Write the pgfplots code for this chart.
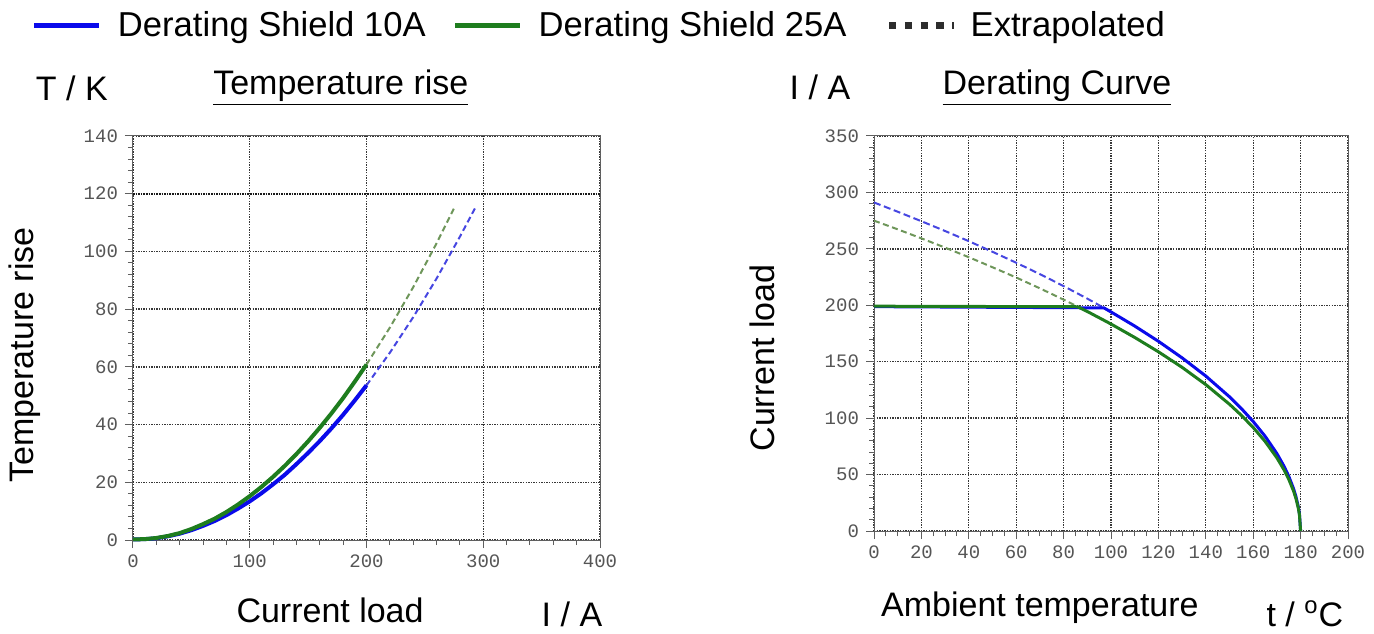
\documentclass[border=0pt]{standalone}
\usepackage{fontspec}
\setmainfont{Liberation Sans}
\setmonofont{Liberation Mono}
\usepackage{pgfplots}
\pgfplotsset{compat=1.18}
\definecolor{cblue}{RGB}{10,10,235}
\definecolor{cgreen}{RGB}{30,125,30}
\definecolor{cbluedash}{RGB}{70,70,225}
\definecolor{cgreendash}{RGB}{110,150,90}
\definecolor{gridc}{RGB}{95,95,95}
\definecolor{gridd}{RGB}{55,55,55}
\definecolor{tickc}{RGB}{85,85,85}
\definecolor{legdot}{RGB}{45,45,45}
\tikzset{lbl/.style={font=\fontsize{17}{20}\selectfont, inner sep=0pt}}
\pgfplotsset{
  myaxis/.style={
    scale only axis, anchor=south west, clip=false,
    axis line style={gridc, line width=0.5pt},
    grid=major, grid style={draw=gridd, line width=0.65pt, dash pattern=on 0.7pt off 0.6pt},
    tick style={gridc, line width=0.5pt},
    major tick length=4pt, minor tick length=2.5pt,
    tick align=outside, tick pos=left,
    /pgf/number format/assume math mode=true,
    /pgf/number format/1000 sep={},
    ticklabel style={font=\ttfamily\fontsize{9.5}{10}\selectfont, text=tickc},
  },
}
\begin{document}
\begin{tikzpicture}
\path[use as bounding box] (0,0) rectangle (687pt,316.5pt);
% ---------------- left: temperature rise
\begin{axis}[myaxis, at={(66.5pt,46.5pt)}, width=233.5pt, height=202pt,
  xmin=0, xmax=400, ymin=0, ymax=140,
  xtick={0,100,200,300,400}, ytick={0,20,40,60,80,100,120,140},
  minor x tick num=4, minor y tick num=4,
  extra y ticks={120}, extra y tick labels={},
  extra y tick style={grid style={draw=black!90, line width=1pt, dash pattern=on 0.8pt off 0.5pt}},
  legend columns=3,
  legend style={at={(-0.230,1.273)}, anchor=west, draw=none, fill=none,
    font=\fontsize{17.3}{20}\selectfont,
    /tikz/column 1/.style={column sep=6pt},
    /tikz/column 2/.style={column sep=11.5pt},
    /tikz/column 3/.style={column sep=6pt},
    /tikz/column 4/.style={column sep=17.5pt},
    /tikz/column 5/.style={column sep=4.5pt}},
  legend image code/.code={\draw[#1] (0pt,0pt) -- (32.5pt,0pt);},
]
\addlegendimage{cblue, line width=2.5pt}
\addlegendimage{cgreen, line width=2.5pt}
\addlegendimage{legdot, line width=3.6pt, dash pattern=on 3.7pt off 4.2pt}
\legend{Derating Shield 10A, Derating Shield 25A, Extrapolated}
% extrapolated
\addplot[cbluedash, line width=1pt, dash pattern=on 3pt off 1.8pt, forget plot] coordinates {
(200,53.6)(220,64.9)(240,77.2)(260,90.6)(280,105.1)(293,115)};
\addplot[cgreendash, line width=1pt, dash pattern=on 3pt off 1.8pt, forget plot] coordinates {
(200,60.8)(220,73.6)(240,87.6)(260,102.8)(276,115.8)};
% measured
\addplot[cblue, line width=2pt, forget plot] coordinates {
(0,0.2)(10,0.3)(20,0.6)(30,1.3)(40,2.2)(50,3.4)(60,4.9)(70,6.6)(80,8.6)(90,10.9)(100,13.4)
(110,16.2)(120,19.3)(130,22.6)(140,26.3)(150,30.2)(160,34.3)(170,38.7)(180,43.4)(190,48.4)(200,53.6)};
\addplot[cgreen, line width=2pt, forget plot] coordinates {
(0,0.2)(10,0.3)(20,0.7)(30,1.4)(40,2.4)(50,3.8)(60,5.5)(70,7.4)(80,9.7)(90,12.3)(100,15.2)
(110,18.4)(120,21.9)(130,25.7)(140,29.8)(150,34.2)(160,38.9)(170,43.9)(180,49.2)(190,54.9)(200,60.8)};
\node[lbl] at (rel axis cs:-0.131,1.119) {T / K};
\node[lbl] at (rel axis cs:0.445,1.119) {\underline{Temperature rise}};
\node[lbl, rotate=90] at (rel axis cs:-0.231,0.458) {Temperature rise};
\node[lbl] at (rel axis cs:0.422,-0.173) {Current load};
\node[lbl] at (rel axis cs:0.94,-0.183) {I / A};
\end{axis}
% ---------------- right: derating curve
\begin{axis}[myaxis, at={(437pt,51pt)}, width=237pt, height=197.5pt,
  xmin=0, xmax=200, ymin=0, ymax=350,
  xtick={0,20,...,200}, ytick={0,50,...,350},
  minor x tick num=3, minor y tick num=4,
]
\addplot[cbluedash, line width=1pt, dash pattern=on 3.5pt off 1.8pt] coordinates {
(0,291.1)(10,282.9)(20,274.5)(30,265.8)(40,256.8)(50,247.4)(60,237.7)(70,227.6)(80,217.0)(90,205.9)(97,197.7)};
\addplot[cgreendash, line width=1pt, dash pattern=on 3pt off 1.8pt] coordinates {
(0,275.0)(10,267.3)(20,259.3)(30,251.1)(40,242.6)(50,233.7)(60,224.6)(70,215.0)(80,205.0)(86,198.7)};
\addplot[cblue, line width=1.5pt] coordinates {
(0,198.8)(97,197.7)(100,194.1)(110,181.6)(120,168.1)(130,153.4)(140,137.3)(150,118.9)(155,108.5)
(160,97.0)(165,84.0)(170,68.6)(173,57.4)(175,48.5)(177,37.6)(178,30.7)(179,21.7)(179.5,15.3)(180,0)};
\addplot[cgreen, line width=1.5pt] coordinates {
(0,199.2)(86,198.7)(90,194.5)(100,183.4)(110,171.5)(120,158.8)(130,145.0)(140,129.7)(150,112.3)(155,102.5)
(160,91.7)(165,79.4)(170,64.8)(173,54.2)(175,45.8)(177,35.5)(178,29.0)(179,20.5)(179.5,14.5)(180,0)};
\node[lbl] at (rel axis cs:-0.114,1.122) {I / A};
\node[lbl] at (rel axis cs:0.386,1.122) {\underline{Derating Curve}};
\node[lbl, rotate=90] at (rel axis cs:-0.236,0.438) {Current load};
\node[lbl] at (rel axis cs:0.350,-0.195) {Ambient temperature};
\node[lbl] at (rel axis cs:0.909,-0.21) {t / \textsuperscript{o}C};
\end{axis}
\end{tikzpicture}
\end{document}
